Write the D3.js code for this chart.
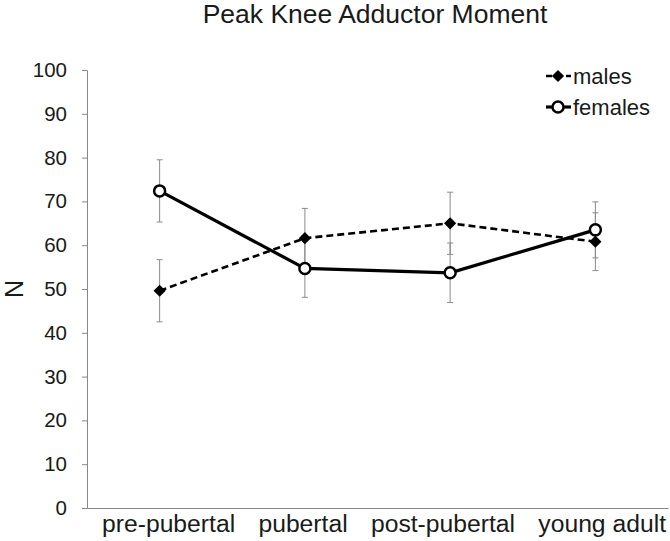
<!DOCTYPE html>
<html>
<head>
<meta charset="utf-8">
<script src="https://cdn.jsdelivr.net/npm/d3@7"></script>
<style>
  body { margin: 0; background: #fff; }
  svg { display: block; font-family: "Liberation Sans", Arial, sans-serif; }
</style>
</head>
<body>
<svg id="chart" width="670" height="541"></svg>
<script>
const categories = ["pre-pubertal", "pubertal", "post-pubertal", "young adult"];
const malesMean = [49.6, 61.6, 65.0, 60.8];
const malesErr = [7.1, 6.8, 7.1, 6.6];
const femalesMean = [72.4, 54.7, 53.7, 63.5];
const femalesErr = [7.1, 6.6, 6.8, 6.4];
const yTicks = [0, 10, 20, 30, 40, 50, 60, 70, 80, 90, 100];
const chartTitle = "Peak Knee Adductor Moment";
const yLabel = "N";

const svg = d3.select("#chart");
const plotLeft = 87, plotRight = 668, plotTop = 70, plotBottom = 508;
const x = d3.scaleBand().domain(categories).range([plotLeft, plotRight]).padding(0);
const y = d3.scaleLinear().domain([0, 100]).range([plotBottom, plotTop]);
const cx = c => x(c) + x.bandwidth() / 2;
const axisColor = "#888";
const textColor = "#1a1a1a";

// title
svg.append("text").attr("x", 375).attr("y", 22.5).attr("text-anchor", "middle")
  .attr("font-size", 26.5).attr("fill", textColor).text(chartTitle);

// y axis
const yAxis = svg.append("g").attr("transform", `translate(${plotLeft},0)`)
  .call(d3.axisLeft(y).tickValues(yTicks).tickSize(5).tickPadding(15));
yAxis.select(".domain").attr("stroke", axisColor);
yAxis.selectAll(".tick line").attr("stroke", axisColor);
yAxis.selectAll(".tick text").attr("font-size", 20.5).attr("fill", textColor)
  .attr("font-family", "Liberation Sans, Arial, sans-serif");

// x axis
const xAxis = svg.append("g").attr("transform", `translate(0,${plotBottom})`)
  .call(d3.axisBottom(x).tickSize(0).tickPadding(6));
xAxis.select(".domain").attr("stroke", axisColor);
const xLabels = xAxis.selectAll(".tick text").attr("font-size", 24.7).attr("fill", textColor)
  .attr("font-family", "Liberation Sans, Arial, sans-serif");

// spread category labels evenly across the label band (as the source layout does)
(function justifyLabels() {
  const nodes = xLabels.nodes();
  const widths = nodes.map(n => n.getComputedTextLength());
  const bandStart = 102, bandEnd = 666;
  const gap = (bandEnd - bandStart - d3.sum(widths)) / (nodes.length - 1);
  let pos = bandStart;
  nodes.forEach((n, i) => {
    const center = pos + widths[i] / 2;
    const tickX = cx(categories[i]);
    d3.select(n).attr("dx", center - tickX);
    pos += widths[i] + gap;
  });
})();

// y label
svg.append("text").attr("transform", `translate(23,${y(50)}) rotate(-90)`)
  .attr("text-anchor", "middle").attr("font-size", 25).attr("fill", textColor).text(yLabel);

const series = [
  { name: "males", mean: malesMean, err: malesErr, dash: "7,4", width: 2.6, marker: "diamond" },
  { name: "females", mean: femalesMean, err: femalesErr, dash: null, width: 3.2, marker: "circle" }
];

// error bars
series.forEach(s => {
  const g = svg.append("g").attr("stroke", "#8a8a8a").attr("stroke-width", 1);
  categories.forEach((c, i) => {
    const xc = cx(c), hi = y(s.mean[i] + s.err[i]), lo = y(s.mean[i] - s.err[i]);
    g.append("line").attr("x1", xc).attr("x2", xc).attr("y1", hi).attr("y2", lo);
    g.append("line").attr("x1", xc - 3).attr("x2", xc + 3).attr("y1", hi).attr("y2", hi);
    g.append("line").attr("x1", xc - 3).attr("x2", xc + 3).attr("y1", lo).attr("y2", lo);
  });
});

const line = d3.line().x((d, i) => cx(categories[i])).y(d => y(d));
const diamond = d3.symbol().type(d3.symbolDiamond2).size(95);

function drawMarker(g, s, px, py) {
  if (s.marker === "diamond") {
    g.append("path").attr("d", diamond()).attr("transform", `translate(${px},${py})`).attr("fill", "#000");
  } else {
    g.append("circle").attr("cx", px).attr("cy", py).attr("r", 5.5)
      .attr("fill", "#fff").attr("stroke", "#000").attr("stroke-width", 2.5);
  }
}

series.forEach(s => {
  svg.append("path").datum(s.mean).attr("d", line).attr("fill", "none")
    .attr("stroke", "#000").attr("stroke-width", s.width)
    .attr("stroke-dasharray", s.dash);
  const g = svg.append("g");
  s.mean.forEach((v, i) => drawMarker(g, s, cx(categories[i]), y(v)));
});

// legend
const legendY = [76, 107];
series.forEach((s, i) => {
  const g = svg.append("g");
  const ly = legendY[i];
  g.append("line").attr("x1", 546).attr("x2", 571).attr("y1", ly).attr("y2", ly)
    .attr("stroke", "#000").attr("stroke-width", s.width).attr("stroke-dasharray", s.dash ? "6,4" : null);
  drawMarker(g, s, 558, ly);
  g.append("text").attr("x", 573).attr("y", ly + 8).attr("font-size", 22).attr("fill", textColor).text(s.name);
});
</script>
</body>
</html>
